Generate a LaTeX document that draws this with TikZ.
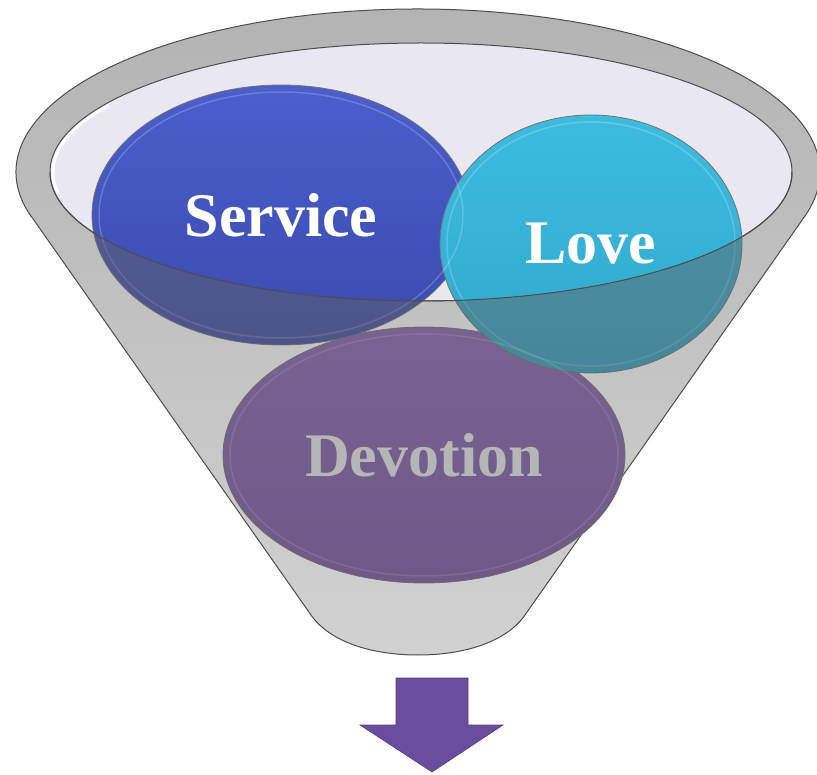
\documentclass[tikz,border=0pt]{standalone}
\usepackage{fontspec}
\setmainfont{Liberation Serif}
\usetikzlibrary{shapes.geometric,positioning}
\definecolor{rimline}{HTML}{4D4D4D}
\definecolor{inner}{HTML}{E9E7EF}
\definecolor{veil}{HTML}{626262}
\definecolor{servtop}{HTML}{4B5ECC}
\definecolor{servbot}{HTML}{3A4BAE}
\definecolor{lovetop}{HTML}{3DBCE0}
\definecolor{lovebot}{HTML}{2EA8CB}
\definecolor{devtop}{HTML}{8C64BC}
\definecolor{devbot}{HTML}{7A52A8}
\definecolor{arrowc}{HTML}{6B4D9F}

\begin{document}
\begin{tikzpicture}[x=1pt,y=-1pt,
	disc/.style={ellipse, inner sep=0pt, draw=black!55, line width=0.8pt, text=white,
		font=\bfseries\fontsize{62}{70}\selectfont}]
	\useasboundingbox (0,0) rectangle (817,775);
	% funnel body and rim
	\draw[top color=black!30, bottom color=black!18, draw=rimline, line width=1pt]
		(31.3,216.4) -- (311,615) .. controls (329,641) and (370,655) .. (418,655)
		.. controls (466,655) and (507,641) .. (525,615) -- (804.7,216.4)
		arc[start angle=15.8, end angle=-195.8, x radius=402, y radius=163] -- cycle;
	\filldraw[fill=inner, draw=rimline, line width=1pt] (421,172) ellipse [x radius=371, y radius=129];
	\draw[white, line width=3pt] (421,172) ++(170:368 and 126) arc[start angle=170, end angle=212, x radius=368, y radius=126];
	% the three discs
	\node (devotion) [disc, top color=devtop, bottom color=devbot, minimum width=402pt, minimum height=256pt] at (424,455) {Devotion};
	\node (service) [disc, top color=servtop, bottom color=servbot, minimum width=378pt, minimum height=260pt] at (281,215) {Service};
	\node (love) [disc, top color=lovetop, bottom color=lovebot, minimum width=302pt, minimum height=258pt] at (591,244) {Love};
	\foreach \n/\rx/\ry in {devotion/201/128, service/189/130, love/151/129}
		\draw[white, opacity=0.2, line width=1.5pt] (\n.center) ellipse [x radius=\rx-7, y radius=\ry-7];
	% front wall over the discs
	\begin{scope}
		\clip (50,172) arc[start angle=180, end angle=0, x radius=371, y radius=129]
			-- (830,172) -- (830,700) -- (0,700) -- (0,172) -- cycle;
		\fill[veil, opacity=0.46] foreach \n/\rx/\ry in {devotion/201/128, service/189/130, love/151/129}
			{(\n.center) ellipse [x radius=\rx, y radius=\ry]};
	\end{scope}
	\draw[rimline, line width=1pt] (50,172) arc[start angle=180, end angle=0, x radius=371, y radius=129];
	% arrow out of the funnel
	\filldraw[fill=arrowc, draw=arrowc!80!black, line width=0.6pt]
		(396,678) -- (468,678) -- (468,725) -- (503,725) -- (432,772) -- (360,725) -- (396,725) -- cycle;
\end{tikzpicture}
\end{document}
